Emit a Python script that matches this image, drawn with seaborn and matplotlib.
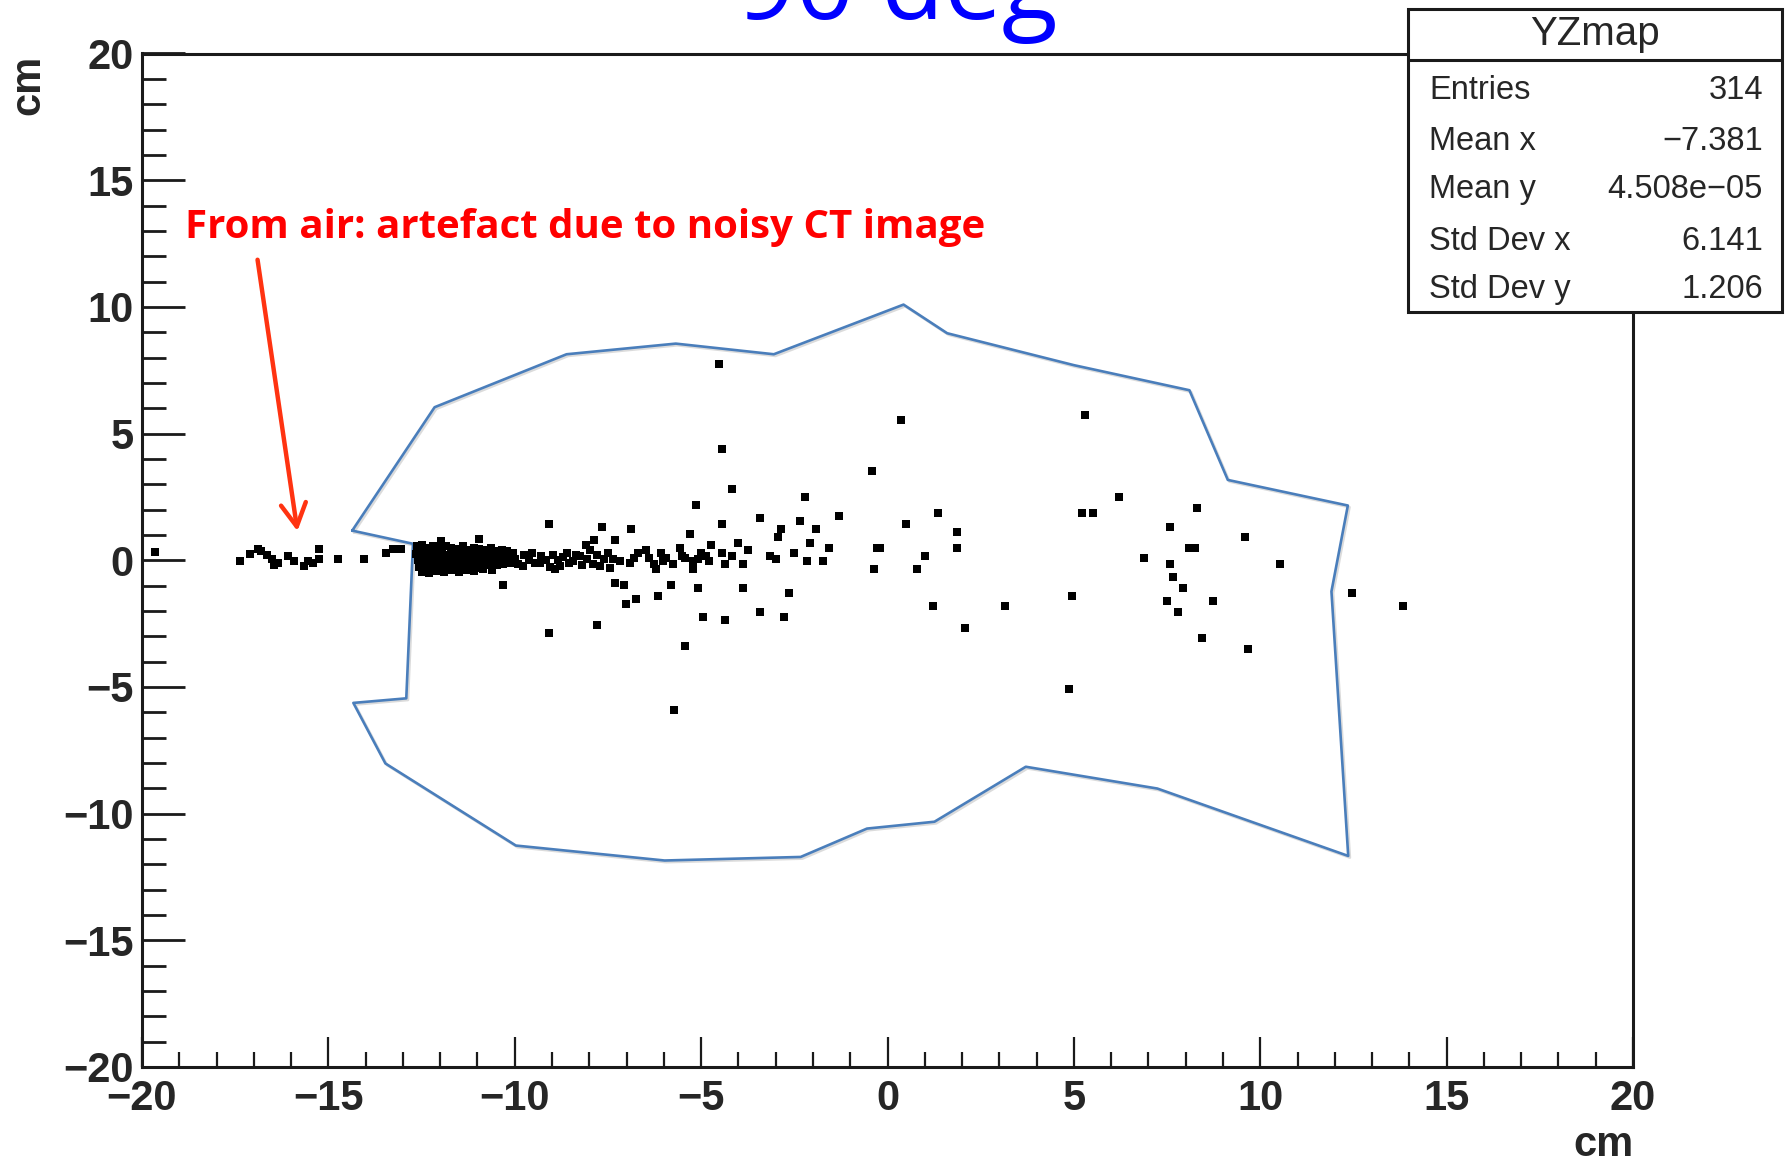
import matplotlib
matplotlib.use("Agg")
import matplotlib.pyplot as plt
import matplotlib.patheffects as pe
from matplotlib.patches import Rectangle
from matplotlib.lines import Line2D
from matplotlib.ticker import MultipleLocator
from matplotlib.font_manager import FontProperties
import seaborn as sns
import pandas as pd

# ---- hit positions (cm): sparse hits outside the head ----
air_x = [-19.66, -17.37, -17.09, -16.90, -16.80, -16.65, -16.50, -16.45, -16.35,
         -16.07, -15.91, -15.66, -15.55, -15.42, -15.24, -15.26, -14.75, -14.05,
         -13.45, -13.27, -13.05]
air_y = [0.31, -0.03, 0.23, 0.43, 0.35, 0.20, 0.05, -0.20, -0.10,
         0.16, -0.03, -0.23, -0.03, -0.10, 0.43, 0.03, 0.06, 0.06,
         0.30, 0.43, 0.43]

# ---- dense band just inside the entrance ----
band_x = [-12.62, -12.50, -12.35, -12.20, -12.05, -11.97, -11.85, -11.70, -11.55, -11.40,
          -11.25, -11.10, -10.95, -10.80, -10.65, -10.50, -10.35, -10.20,
          -12.65, -12.50, -12.38, -12.25, -12.10, -11.95, -11.80, -11.65, -11.50, -11.35,
          -11.20, -11.05, -10.90, -10.75, -10.60, -10.45, -10.30, -10.15,
          -12.60, -12.45, -12.30, -12.15, -12.00, -11.85, -11.70, -11.55, -11.40, -11.25,
          -11.10, -10.95, -10.80, -10.65, -10.50, -10.35, -10.20, -10.10,
          -12.58, -12.42, -12.28, -12.12, -11.98, -11.82, -11.68, -11.52, -11.38, -11.22,
          -11.08, -10.92, -10.78, -10.62, -10.48, -10.32,
          -12.50, -12.30, -12.10, -11.90, -11.70, -11.50, -11.30, -11.10, -10.85, -10.60,
          -10.97, -10.32]
band_y = [0.55, 0.62, 0.50, 0.58, 0.48, 0.75, 0.55, 0.50, 0.45, 0.55,
          0.42, 0.50, 0.45, 0.40, 0.48, 0.38, 0.42, 0.35,
          0.25, 0.30, 0.20, 0.30, 0.22, 0.28, 0.20, 0.30, 0.22, 0.25,
          0.18, 0.26, 0.20, 0.24, 0.15, 0.22, 0.18, 0.12,
          0.00, -0.05, 0.02, -0.03, 0.05, -0.02, 0.00, -0.05, 0.03, -0.04,
          0.00, -0.06, 0.02, -0.02, 0.04, -0.05, 0.00, -0.10,
          -0.25, -0.30, -0.22, -0.30, -0.25, -0.32, -0.22, -0.28, -0.20, -0.26,
          -0.22, -0.30, -0.18, -0.25, -0.20, -0.15,
          -0.45, -0.50, -0.42, -0.48, -0.40, -0.45, -0.38, -0.42, -0.35, -0.38,
          0.82, -0.03]

# ---- thinner tail of the band ----
tail_x = [-10.05, -10.00, -9.90, -9.78, -9.75, -9.62, -9.55, -9.45, -9.33, -9.30,
          -9.15, -9.05, -8.98, -8.93, -8.85, -8.79, -8.70, -8.61, -8.55, -8.44,
          -8.35, -8.26, -8.20, -8.05, -7.98, -7.90, -7.80, -7.72, -7.60, -7.50,
          -7.45, -7.36, -7.18, -6.90, -6.80, -6.69, -6.47, -6.40, -6.26, -6.20,
          -6.08, -6.02, -5.93, -5.75, -5.50, -5.43, -5.23, -5.08, -4.99, -4.86, -4.80]
tail_y = [0.30, 0.05, -0.15, -0.23, 0.20, 0.00, 0.30, -0.10, -0.10, 0.15,
          0.00, -0.25, 0.20, -0.36, 0.00, -0.23, 0.12, 0.30, -0.10, -0.03,
          0.20, 0.16, -0.20, 0.05, 0.40, -0.16, 0.20, -0.23, 0.05, 0.30,
          -0.30, 0.03, -0.03, -0.10, 0.10, 0.28, 0.39, 0.07, -0.14, -0.36,
          0.28, -0.03, 0.07, -0.14, 0.16, 0.07, -0.03, 0.03, 0.28, 0.16, -0.03]

# ---- scattered hits through the volume ----
scat_x = [-4.52, 0.36, -4.44, -0.42, -4.16, -2.22, -5.15, -1.29, 1.36, -9.09,
          -7.66, -6.87, -4.43, -3.43, -2.36, 0.50, -2.86, -1.93, -5.30, -7.87,
          -7.30, -2.94, -2.08, -4.01, -4.73, -8.10, -1.58, -0.28, -0.20, -3.73,
          -5.58, 1.00, -2.51, -3.16, -3.00, -4.16, -4.43, -3.87, -2.15, -1.72,
          -4.36, -5.23, -0.35, 0.78, -10.31, -7.30, -7.08, -5.80, -5.08, -3.87,
          -2.65, -7.02, -6.74, -6.16, 1.21, -3.43, -4.94, -4.36, -2.79, -9.09,
          -7.80, -5.44, -5.73,
          5.30, 6.22, 5.22, 5.51, 1.86, 1.86, 8.30, 7.59, 9.59, 8.09,
          8.25, 6.87, 7.59, 10.52, 7.66, 7.94, 4.94, 3.15, 7.51, 8.73,
          7.80, 2.07, 12.45, 13.82, 8.45, 9.66, 4.87]
scat_y = [7.75, 5.54, 4.38, 3.54, 2.80, 2.50, 2.17, 1.75, 1.86, 1.44,
          1.33, 1.23, 1.44, 1.65, 1.54, 1.44, 1.23, 1.23, 1.03, 0.81,
          0.81, 0.91, 0.70, 0.70, 0.61, 0.61, 0.49, 0.49, 0.49, 0.39,
          0.50, 0.16, 0.28, 0.17, 0.06, 0.17, 0.28, -0.14, -0.03, -0.03,
          -0.14, -0.35, -0.35, -0.35, -0.98, -0.88, -0.98, -0.98, -1.09, -1.09,
          -1.30, -1.72, -1.51, -1.40, -1.82, -2.03, -2.24, -2.35, -2.24, -2.87,
          -2.56, -3.39, -5.92,
          5.75, 2.49, 1.86, 1.86, 1.12, 0.49, 2.07, 1.33, 0.91, 0.49,
          0.49, 0.07, -0.14, -0.14, -0.67, -1.09, -1.40, -1.82, -1.61, -1.61,
          -2.03, -2.66, -1.30, -1.82, -3.08, -3.50, -5.08]

# ---- head outline (cm) ----
outline_x = [-14.36, -12.15, -8.61, -5.68, -3.05, 0.43, 1.60, 5.00, 8.10, 9.13,
             12.35, 11.91, 12.36, 7.24, 3.71, 1.26, -0.55, -2.33, -5.98, -9.97,
             -13.47, -14.33, -12.91, -12.73]
outline_y = [1.17, 6.04, 8.13, 8.55, 8.13, 10.09, 8.96, 7.70, 6.71, 3.17,
             2.16, -1.23, -11.67, -9.01, -8.15, -10.32, -10.59, -11.71, -11.85, -11.26,
             -8.02, -5.63, -5.45, 0.65]

x_major_ticks = [-20, -15, -10, -5, 0, 5, 10, 15, 20]
y_major_ticks = [-20, -15, -10, -5, 0, 5, 10, 15, 20]

stats_title = "YZmap"
stats_names = ["Entries", "Mean x", "Mean y", "Std Dev x", "Std Dev y"]
stats_values = ["314", "\u22127.381", "4.508e\u221205", "6.141", "1.206"]

hits = pd.DataFrame({
    "z": air_x + band_x + tail_x + scat_x,
    "y": air_y + band_y + tail_y + scat_y,
})

sns.set_style("white")
plt.rcParams["font.family"] = ["Liberation Sans", "DejaVu Sans"]

W, H = 1791, 1164
fig = plt.figure(figsize=(W / 100, H / 100), dpi=100)
fig.patch.set_facecolor("white")

left, right, top, bottom = 142, 1633, 53.5, 1067
ax = fig.add_axes([left / W, 1 - bottom / H, (right - left) / W, (bottom - top) / H])

sns.scatterplot(data=hits, x="z", y="y", marker="s", s=38, color="black",
                linewidth=0, legend=False, ax=ax, zorder=3)

ax.plot(outline_x + outline_x[:1], outline_y + outline_y[:1], color="#4a7ebb",
        lw=1.9, zorder=2,
        path_effects=[pe.SimpleLineShadow(offset=(1.2, -1.2), shadow_color="#999999", alpha=0.35),
                      pe.Normal()])

ax.set_xlim(-20, 20)
ax.set_ylim(-20, 20)
ax.set_xlabel("")
ax.set_ylabel("")
ax.set_xticks(x_major_ticks)
ax.set_yticks(y_major_ticks)
ax.xaxis.set_minor_locator(MultipleLocator(1))
ax.yaxis.set_minor_locator(MultipleLocator(1))

tick_font = FontProperties(family="Liberation Sans", weight="bold", size=30)
for lab in ax.get_xticklabels() + ax.get_yticklabels():
    lab.set_fontproperties(tick_font)

ax.tick_params(axis="x", which="major", direction="in", length=21.5, width=1.6,
               color="#1a1a1a", pad=9, top=False, bottom=True)
ax.tick_params(axis="x", which="minor", direction="in", length=11, width=1.6,
               color="#1a1a1a", top=False, bottom=True)
ax.tick_params(axis="y", which="major", direction="in", length=31, width=2.0,
               color="#1a1a1a", pad=6, right=False, left=True)
ax.tick_params(axis="y", which="minor", direction="in", length=17, width=2.0,
               color="#1a1a1a", right=False, left=True)
for sp in ax.spines.values():
    sp.set_visible(True)
    sp.set_linewidth(2.2)
    sp.set_color("#1a1a1a")

# axis titles
fig.text(1634 / W, 1 - 1156 / H, "cm", ha="right", va="baseline",
         fontsize=30, fontweight="bold", family="Liberation Sans")
fig.text(28 / W, 1 - 55 / H, "cm", ha="center", va="top", rotation=90,
         fontsize=30, fontweight="bold", family="Liberation Sans")

# annotation of the air artefact
ax.text(-18.84, 12.73, "From air: artefact due to noisy CT image", ha="left",
        va="baseline", color="#ff0000", fontsize=29, fontweight="bold",
        family="Open Sans", zorder=5)
ax.annotate("", xy=(-15.83, 1.15), xytext=(-16.90, 11.86),
            arrowprops=dict(arrowstyle="->,head_length=0.55,head_width=0.3",
                            color="#ff3311", lw=3.2, mutation_scale=30,
                            shrinkA=0, shrinkB=0), zorder=5)

# title
fig.text(897 / W, 1 - 19 / H, "90 deg", ha="center", va="baseline",
         fontsize=74, family="Open Sans", color="#0000ff")

# statistics box
bx0, bx1, by0, by1 = 1408, 1782, 9, 312
fig.add_artist(Rectangle((bx0 / W, 1 - by1 / H), (bx1 - bx0) / W, (by1 - by0) / H,
                         transform=fig.transFigure, facecolor="white",
                         edgecolor="#1a1a1a", lw=2.2, zorder=10))
fig.add_artist(Line2D([bx0 / W, bx1 / W], [1 - 60 / H, 1 - 60 / H],
                      transform=fig.transFigure, color="#1a1a1a", lw=2.2, zorder=11))
fig.text((bx0 + bx1) / 2 / W, 1 - 45 / H, stats_title, ha="center", va="baseline",
         fontsize=29, family="Liberation Sans", zorder=12)
row_base = [99, 150, 198, 250, 298]
for name, val, yb in zip(stats_names, stats_values, row_base):
    fig.text(1429 / W, 1 - yb / H, name, ha="left", va="baseline",
             fontsize=23.5, family="Liberation Sans", zorder=12)
    fig.text(1763 / W, 1 - yb / H, val, ha="right", va="baseline",
             fontsize=23.5, family="Liberation Sans", zorder=12)

fig.savefig("out.png", dpi=100, facecolor="white")
